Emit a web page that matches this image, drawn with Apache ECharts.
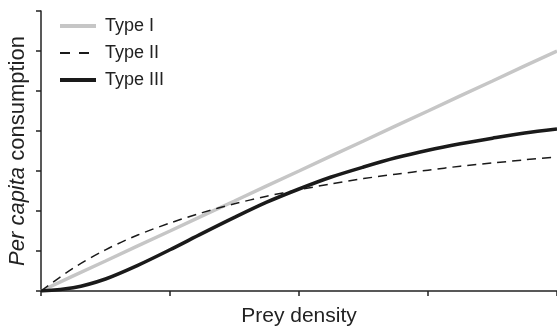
<!DOCTYPE html>
<html>
<head>
<meta charset="utf-8">
<script src="https://cdn.jsdelivr.net/npm/echarts@6/dist/echarts.min.js"></script>
<style>
html, body { margin: 0; padding: 0; background: #fff; }
#chart { width: 557px; height: 327px; }
</style>
</head>
<body>
<div id="chart"></div>
<script>
// prey density (x)
var preyDensity = [0, 0.25, 0.5, 0.75, 1, 1.25, 1.5, 1.75, 2, 2.25, 2.5, 2.75, 3, 3.25, 3.5, 3.75, 4];
var typeI = [0, 0.38, 0.75, 1.13, 1.5, 1.88, 2.25, 2.63, 3.0, 3.38, 3.75, 4.13, 4.5, 4.88, 5.25, 5.63, 6.0];
var typeII = [0, 0.57, 1.03, 1.40, 1.70, 1.96, 2.18, 2.37, 2.53, 2.68, 2.81, 2.92, 3.02, 3.12, 3.20, 3.28, 3.35];
var typeIII = [0, 0.08, 0.30, 0.64, 1.03, 1.44, 1.84, 2.22, 2.55, 2.85, 3.10, 3.33, 3.52, 3.68, 3.82, 3.95, 4.05];
var seriesNames = ['Type I', 'Type II', 'Type III'];

function pairs(ys) {
	return preyDensity.map(function(x, i) { return [x, ys[i]]; });
}

var font = '"Liberation Sans", Arial, sans-serif';
var axisColor = '#222';

var myChart = echarts.init(document.getElementById('chart'), null, { renderer: 'canvas' });
var option = {
	animation: false,
	textStyle: { fontFamily: font },
	grid: { left: 41, right: 0, top: 11, bottom: 36, outerBoundsMode: 'none' },
	legend: {
		orient: 'vertical',
		left: 58,
		top: 17,
		padding: 0,
		itemWidth: 36,
		itemHeight: 18,
		itemGap: 9,
		data: [
			{ name: seriesNames[0], lineStyle: { width: 4 } },
			{ name: seriesNames[1], lineStyle: { width: 2, type: [10, 9] } },
			{ name: seriesNames[2], lineStyle: { width: 4 } }
		],
		// hide the marker dot, keep only the line
		itemStyle: { color: 'rgba(0,0,0,0)', borderColor: 'rgba(0,0,0,0)', borderWidth: 0, opacity: 0 },
		textStyle: { fontFamily: font, fontSize: 18, color: '#222', padding: [0, 0, 0, 4] }
	},
	xAxis: {
		type: 'value',
		min: 0,
		max: 4,
		interval: 1,
		name: 'Prey density',
		nameLocation: 'middle',
		nameGap: 15,
		nameTextStyle: { fontFamily: font, fontSize: 21, color: '#222', verticalAlign: 'top' },
		axisLine: { lineStyle: { color: axisColor, width: 1.5 } },
		axisTick: { length: 5, lineStyle: { color: axisColor, width: 1.5 } },
		axisLabel: { show: false },
		splitLine: { show: false }
	},
	yAxis: {
		type: 'value',
		min: 0,
		max: 7,
		interval: 1,
		name: '{i|Per capita} consumption',
		nameLocation: 'middle',
		nameGap: 12,
		nameTextStyle: {
			fontFamily: font, fontSize: 22, color: '#222',
			rich: { i: { fontFamily: font, fontSize: 22, fontStyle: 'italic', color: '#222' } }
		},
		axisLine: { lineStyle: { color: axisColor, width: 1.5 } },
		axisTick: { length: 5, lineStyle: { color: axisColor, width: 1.5 } },
		axisLabel: { show: false },
		splitLine: { show: false }
	},
	series: [
		{
			name: seriesNames[0],
			type: 'line',
			symbol: 'none',
			data: pairs(typeI),
			lineStyle: { color: '#c6c6c6', width: 3.5 },
			itemStyle: { color: '#c6c6c6' },
			z: 1
		},
		{
			name: seriesNames[1],
			type: 'line',
			symbol: 'none',
			smooth: 0.3,
			data: pairs(typeII),
			lineStyle: { color: '#1a1a1a', width: 1.5, type: [9, 6] },
			itemStyle: { color: '#1a1a1a' },
			z: 3
		},
		{
			name: seriesNames[2],
			type: 'line',
			symbol: 'none',
			smooth: 0.3,
			data: pairs(typeIII),
			lineStyle: { color: '#1a1a1a', width: 3.5 },
			itemStyle: { color: '#1a1a1a' },
			z: 2
		}
	]
};
myChart.setOption(option);
</script>
</body>
</html>
